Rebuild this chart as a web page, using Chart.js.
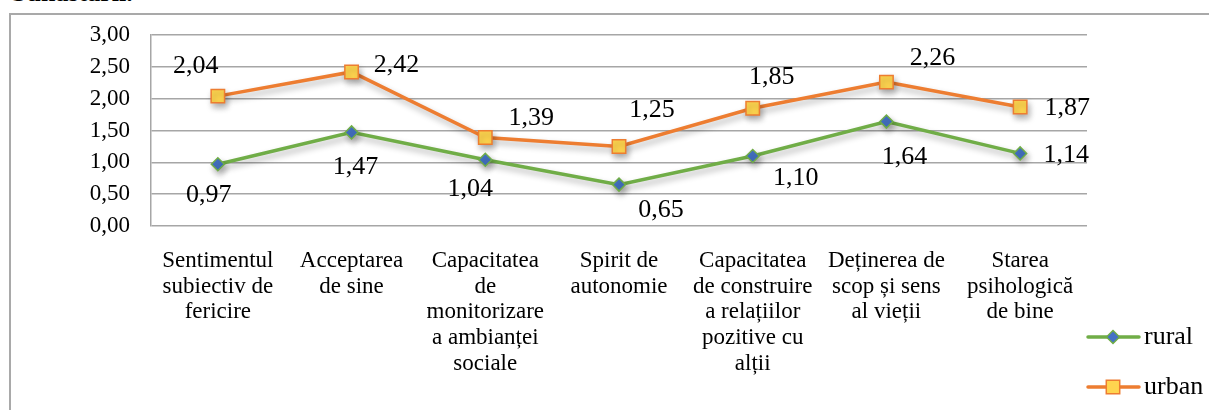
<!DOCTYPE html>
<html>
<head>
<meta charset="utf-8">
<script src="https://cdn.jsdelivr.net/npm/chart.js@4.4.1/dist/chart.umd.min.js"></script>
<style>
  html, body { margin: 0; padding: 0; background: #fff; overflow: hidden; }
  #wrap { position: relative; width: 1209px; height: 410px; overflow: hidden; }
  #frame { position: absolute; left: 9px; top: 13px; width: 1300px; height: 500px; border: 2px solid #a9a9a9; box-sizing: border-box; }
  #caption { position: absolute; left: 12px; top: -22px; line-height: 30px; font: bold 26px 'Liberation Serif', serif; white-space: nowrap; color: #000; }
  canvas { position: absolute; left: 0; top: 0; }
</style>
</head>
<body>
<div id="wrap">
  <div id="caption">bunăstării.</div>
  <div id="frame"></div>
  <canvas id="chart" width="1209" height="410"></canvas>
</div>
<script>
const categories = [
  ['Sentimentul', 'subiectiv de', 'fericire'],
  ['Acceptarea', 'de sine'],
  ['Capacitatea', 'de', 'monitorizare', 'a ambianței', 'sociale'],
  ['Spirit de', 'autonomie'],
  ['Capacitatea', 'de construire', 'a relațiilor', 'pozitive cu', 'alții'],
  ['Deținerea de', 'scop și sens', 'al vieții'],
  ['Starea', 'psihologică', 'de bine']
];
const seriesNames = ['rural', 'urban'];
const rural = [0.97, 1.47, 1.04, 0.65, 1.10, 1.64, 1.14];
const urban = [2.04, 2.42, 1.39, 1.25, 1.85, 2.26, 1.87];
const yMin = 0, yMax = 3, yStep = 0.5;

const FONT = "'Liberation Serif', 'Times New Roman', serif";
const fmt = v => v.toFixed(2).replace('.', ',');

// label nudges (px) so the values sit where they do in the original
const labelOffsets = [
  [[-9, 31], [4, 35], [-15, 29], [42, 26], [43, 22], [18, 36], [46, 2]],
  [[-22, -30], [45, -7], [46, -19], [33, -36], [19, -31], [46, -24], [47, 1]]
];

const shadowPlugin = {
  id: 'lineShadow',
  beforeDatasetDraw(chart) {
    const ctx = chart.ctx;
    ctx.save();
    ctx.shadowColor = 'rgba(0,0,0,0.3)';
    ctx.shadowBlur = 6;
    ctx.shadowOffsetX = 2;
    ctx.shadowOffsetY = 4;
  },
  afterDatasetDraw(chart) {
    chart.ctx.restore();
  }
};

const valueLabels = {
  id: 'valueLabels',
  afterDatasetsDraw(chart) {
    const ctx = chart.ctx;
    ctx.save();
    ctx.font = '26px ' + FONT;
    ctx.fillStyle = '#000';
    ctx.textAlign = 'center';
    ctx.textBaseline = 'middle';
    chart.data.datasets.forEach((ds, i) => {
      chart.getDatasetMeta(i).data.forEach((pt, j) => {
        const off = labelOffsets[i][j];
        ctx.fillText(fmt(ds.data[j]), pt.x + off[0], pt.y + off[1]);
      });
    });
    ctx.restore();
  }
};

const sideLegend = {
  id: 'sideLegend',
  afterDraw(chart) {
    const ctx = chart.ctx;
    const x0 = chart.chartArea.right;
    const rows = [337, 387];
    ctx.save();
    chart.data.datasets.forEach((ds, i) => {
      const y = rows[i];
      ctx.strokeStyle = ds.borderColor;
      ctx.lineWidth = ds.borderWidth;
      ctx.lineCap = 'round';
      ctx.beginPath();
      ctx.moveTo(x0 + 1, y);
      ctx.lineTo(x0 + 52, y);
      ctx.stroke();
      const cx = x0 + 26;
      ctx.fillStyle = ds.pointBackgroundColor;
      ctx.strokeStyle = ds.pointBorderColor;
      ctx.lineWidth = ds.pointBorderWidth;
      ctx.beginPath();
      if (ds.pointStyle === 'rectRot') {
        const r = ds.pointRadius;
        ctx.moveTo(cx - r, y); ctx.lineTo(cx, y - r); ctx.lineTo(cx + r, y); ctx.lineTo(cx, y + r);
        ctx.closePath();
      } else {
        const s = ds.pointRadius * Math.SQRT1_2;
        ctx.rect(cx - s, y - s, 2 * s, 2 * s);
      }
      ctx.fill();
      ctx.stroke();
      ctx.fillStyle = '#000';
      ctx.font = '26px ' + FONT;
      ctx.textAlign = 'left';
      ctx.textBaseline = 'middle';
      ctx.fillText(ds.label, x0 + 57, y);
    });
    ctx.restore();
  }
};

new Chart(document.getElementById('chart'), {
  type: 'line',
  data: {
    labels: categories,
    datasets: [
      {
        label: seriesNames[0],
        data: rural,
        borderColor: '#70ad47',
        borderWidth: 3.5,
        pointStyle: 'rectRot',
        pointRadius: 6.5,
        pointBackgroundColor: '#4472c4',
        pointBorderColor: '#70ad47',
        pointBorderWidth: 1.5,
        tension: 0
      },
      {
        label: seriesNames[1],
        data: urban,
        borderColor: '#ed7d31',
        borderWidth: 3.5,
        pointStyle: 'rect',
        pointRadius: 9.5,
        pointBackgroundColor: '#ffd54f',
        pointBorderColor: '#ed7d31',
        pointBorderWidth: 1.5,
        tension: 0
      }
    ]
  },
  options: {
    responsive: false,
    animation: false,
    devicePixelRatio: 1,
    layout: { padding: { left: 10, top: 35, right: 122, bottom: 0 } },
    plugins: {
      legend: { display: false },
      tooltip: { enabled: false }
    },
    scales: {
      x: {
        offset: true,
        grid: { display: false },
        border: { display: false },
        ticks: {
          color: '#000',
          font: { family: FONT, size: 23, lineHeight: 1.12 },
          padding: 14,
          maxRotation: 0,
          autoSkip: false
        },
        afterFit(scale) { scale.height = 184; }
      },
      y: {
        min: yMin,
        max: yMax,
        grid: { color: '#a6a6a6', lineWidth: 1.5, drawTicks: false },
        border: { display: true, color: '#a6a6a6', width: 1.5 },
        ticks: {
          stepSize: yStep,
          color: '#000',
          font: { family: FONT, size: 23 },
          padding: 21,
          callback: v => fmt(v)
        },
        afterFit(scale) { scale.width = 141; }
      }
    }
  },
  plugins: [shadowPlugin, valueLabels, sideLegend]
});
</script>
</body>
</html>
